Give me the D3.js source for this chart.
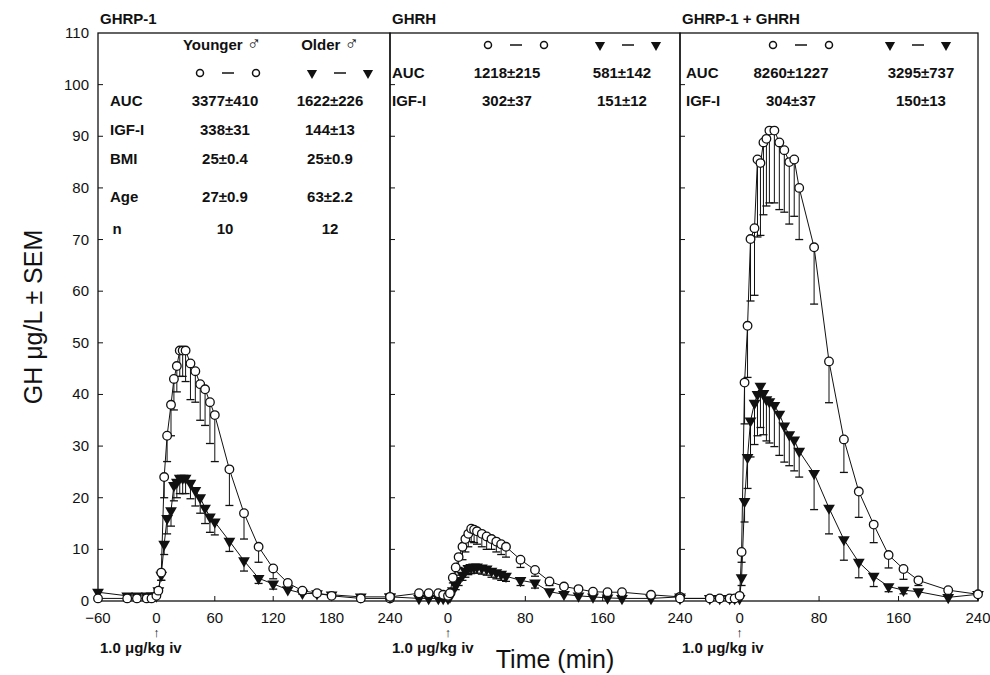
<!DOCTYPE html>
<html>
<head>
<meta charset="utf-8">
<script src="https://cdn.jsdelivr.net/npm/d3@7"></script>
<style>
  body { margin: 0; background: #fff; }
  svg text { font-family: "Liberation Sans", Arial, sans-serif; fill: #111; }
  .tbl { font-size: 15px; font-weight: bold; }
  .tick-label { font-size: 15px; }
</style>
</head>
<body>
<svg id="chart" width="990" height="675"></svg>
<script>
// sampling times (min)
var times = [-60,-30,-20,-10,-5,0, 2,5,8,11,15,18,21,24,27,30, 35,40,45,50,55,60, 75,90,105,120,135,150,165,180,210,240];

// GHRP-1
var p1Young    = [0.5,0.5,0.5,0.5,0.5,1, 2,5.5,24,32,38,43,45.5,48.5,48.5,48.5, 46,44.5,42,41,38.5,36, 25.5,17,10.5,6.3,3.5,2,1.5,1,0.5,0.5];
var p1YoungSem = [0.2,0.2,0.2,0.2,0.2,0.3, 0.5,1.5,4,5,6,6,5,5,5,6, 7,6,7,7,8,9, 7,5,3,2,1,0.7,0.5,0.3,0.2,0.2];
var p1Old      = [1.7,1,1,1,1,1, 2,5,11,16,17.5,22.4,23,23.8,23.8,23.8, 22.8,21.4,20,18,16.3,15.3, 11.6,7.8,4.4,3.3,2.2,1.5,1.4,1.2,0.8,0.8];
var p1OldSem   = [0.3,0.2,0.2,0.2,0.2,0.2, 0.5,1,2,3,3,3,3,3,3,3, 3,3,3,3,3,2.5, 2,2,1,1,0.5,0.4,0.3,0.2,0.2,0.2];

// GHRH
var p2Young    = [0.8,1.5,1.5,1.5,1.2,1, 1.5,4.5,6.5,8.5,10.5,12,13,14,13.8,13.5, 13,12.5,12,11.5,11,10.5, 8,6,3.8,2.8,2.3,1.8,1.7,1.7,1.2,0.8];
var p2YoungSem = [0.2,0.3,0.3,0.3,0.3,0.2, 0.5,1,1.5,2,2.5,2.5,2.5,2.5,2.5,2.5, 2.5,2.5,2,2,2,2, 1.5,1.2,0.8,0.5,0.4,0.3,0.3,0.3,0.2,0.2];
var p2Old      = [0.8,0.5,0.5,0.5,0.5,0.5, 0.8,2,3,4,5,5.8,6.3,6.5,6.6,6.6, 6.4,6.2,5.8,5.5,5.2,4.8, 4,3.5,1.8,1.3,1,0.8,0.6,0.5,0.5,0.8];
var p2OldSem   = [0.2,0.1,0.1,0.1,0.1,0.1, 0.2,0.5,0.8,1,1,1.2,1.2,1.2,1.2,1.2, 1.2,1.2,1.2,1.2,1.2,1, 1,1,0.5,0.4,0.3,0.2,0.2,0.2,0.1,0.2];

// GHRP-1 + GHRH
var p3Young    = [0.5,0.5,0.5,0.5,0.5,1, 9.5,42.3,53.3,70.1,72.2,85.5,84.8,88.8,89.5,91.1, 91.1,88.8,87.3,85,85.5,80, 68.5,46.4,31.3,21.2,14.8,8.9,6.2,4,2.1,1.3];
var p3YoungSem = [0.2,0.2,0.2,0.2,0.2,0.3, 2,8,10,12,13,15,14,14,13,14, 14,13,12,12,11,10, 11,8,6.4,5,3.5,2.5,2,1,0.5,0.3];
var p3Old      = [0.5,0.5,0.5,0.5,0.5,0.5, 4.5,19.3,27.8,34.9,38.3,40,41.6,40.2,39,38.6, 37.9,36.2,33.9,32.2,31.2,29, 24.7,18,11.9,7.5,4.8,2.8,2.1,1.8,0.7,1.3];
var p3OldSem   = [0.2,0.2,0.2,0.2,0.2,0.2, 1.5,4,6,7,8,8,8,8,8,8, 8,8,7,6,6,5, 7,5,4,3,2,1,0.7,0.5,0.3,0.3];

var yTicks = [0,10,20,30,40,50,60,70,80,90,100,110];
var panelTitles = ["GHRP-1", "GHRH", "GHRP-1 + GHRH"];
var panelXTicks = [[-60,0,60,120,180,240], [0,80,160,240], [0,80,160,240]];

var tbl1Rows = [["AUC","3377±410","1622±226"],["IGF-I","338±31","144±13"],["BMI","25±0.4","25±0.9"],["Age","27±0.9","63±2.2"],["n","10","12"]];
var tbl2Rows = [["AUC","1218±215","581±142"],["IGF-I","302±37","151±12"]];
var tbl3Rows = [["AUC","8260±1227","3295±737"],["IGF-I","304±37","150±13"]];

var svg = d3.select("#chart");
var plotTop = 33, plotBottom = 601;
var y = d3.scaleLinear().domain([0,110]).range([plotBottom, plotTop]);

var panels = [
  {x0: 98,  x1: 390, young: p1Young, ys: p1YoungSem, old: p1Old, os: p1OldSem},
  {x0: 390, x1: 680, young: p2Young, ys: p2YoungSem, old: p2Old, os: p2OldSem},
  {x0: 680, x1: 978, young: p3Young, ys: p3YoungSem, old: p3Old, os: p3OldSem}
];

var tri = d3.symbol().type(d3.symbolTriangle).size(60);

panels.forEach(function(p, i) {
  var x = d3.scaleLinear().domain([-60,240]).range([p.x0, p.x1]);
  var g = svg.append("g");

  g.append("rect").attr("x", p.x0).attr("y", plotTop).attr("width", p.x1 - p.x0).attr("height", plotBottom - plotTop)
    .attr("fill", "none").attr("stroke", "#111").attr("stroke-width", 1.3);

  // inward ticks
  g.selectAll(".yt").data(yTicks.slice(1, -1)).enter().append("line")
    .attr("x1", p.x0).attr("x2", p.x0 + 5).attr("y1", d => y(d)).attr("y2", d => y(d)).attr("stroke", "#111");
  g.selectAll(".xt").data(panelXTicks[i]).enter().append("line")
    .attr("x1", d => x(d)).attr("x2", d => x(d)).attr("y1", plotBottom).attr("y2", plotBottom - 5).attr("stroke", "#111");

  g.selectAll(".xl").data(panelXTicks[i]).enter().append("text").attr("class", "tick-label")
    .attr("x", d => x(d)).attr("y", 623).attr("text-anchor", "middle").text(d => d === -60 ? "\u221260" : d);

  g.append("text").attr("x", x(0)).attr("y", 637).attr("text-anchor", "middle").style("font-size", "13px").style("font-weight", "bold").text("\u2191");
  g.append("text").attr("class", "tbl").attr("x", p.x0 + 2).attr("y", 653).text("1.0 \u03bcg/kg iv");

  g.append("text").attr("class", "tbl").attr("x", p.x0 + 2).attr("y", 24).text(panelTitles[i]);

  function series(vals, sems, isTri) {
    g.append("path").datum(vals)
      .attr("d", d3.line().x((d, j) => x(times[j])).y(d => y(d)))
      .attr("fill", "none").attr("stroke", "#111").attr("stroke-width", 1);
    var eb = g.append("g");
    vals.forEach(function(v, j) {
      var lo = Math.max(0, v - sems[j]);
      if (sems[j] < 0.6) return;
      eb.append("line").attr("x1", x(times[j])).attr("x2", x(times[j])).attr("y1", y(v)).attr("y2", y(lo)).attr("stroke", "#111");
      eb.append("line").attr("x1", x(times[j]) - 4).attr("x2", x(times[j]) + 4).attr("y1", y(lo)).attr("y2", y(lo)).attr("stroke", "#111").attr("stroke-width", 1.3);
    });
    if (isTri) {
      g.selectAll(null).data(vals).enter().append("path")
        .attr("d", tri).attr("transform", (d, j) => "translate(" + x(times[j]) + "," + y(d) + ") rotate(180)")
        .attr("fill", "#111");
    } else {
      g.selectAll(null).data(vals).enter().append("circle")
        .attr("cx", (d, j) => x(times[j])).attr("cy", d => y(d)).attr("r", 4.3)
        .attr("fill", "#fff").attr("stroke", "#111").attr("stroke-width", 1.3);
    }
  }
  series(p.old, p.os, true);
  series(p.young, p.ys, false);
});

// y axis labels
svg.selectAll(".yl").data(yTicks).enter().append("text").attr("class", "tick-label")
  .attr("x", 89).attr("y", d => y(d) + 5).attr("text-anchor", "end").text(d => d);

svg.append("text").attr("transform", "translate(42,317) rotate(-90)").attr("text-anchor", "middle")
  .style("font-size", "25px").text("GH \u03bcg/L \u00b1 SEM");
svg.append("text").attr("x", 555).attr("y", 668).attr("text-anchor", "middle")
  .style("font-size", "25px").text("Time (min)");

// legend glyphs and tables
function legend(cx1, cx2, ly) {
  var g = svg.append("g");
  [cx1, cx2].forEach(function(cx, k) {
    [-28, 28].forEach(function(dx) {
      if (k === 0) g.append("circle").attr("cx", cx + dx).attr("cy", ly - 5).attr("r", 3.5).attr("fill", "none").attr("stroke", "#111").attr("stroke-width", 1.5);
      else g.append("path").attr("d", d3.symbol().type(d3.symbolTriangle).size(45)).attr("transform", "translate(" + (cx + dx) + "," + (ly - 5) + ") rotate(180)").attr("fill", "#111");
    });
    g.append("line").attr("x1", cx - 6).attr("x2", cx + 6).attr("y1", ly - 5).attr("y2", ly - 5).attr("stroke", "#111").attr("stroke-width", 1.5);
  });
}
function table(rows, lx, c1, c2, ys) {
  rows.forEach(function(r, k) {
    svg.append("text").attr("class", "tbl").attr("x", lx).attr("y", ys[k]).attr("text-anchor", r[0] === "n" ? "middle" : "start")
      .attr("dx", r[0] === "n" ? 7 : 0).text(r[0]);
    svg.append("text").attr("class", "tbl").attr("x", c1).attr("y", ys[k]).attr("text-anchor", "middle").text(r[1]);
    svg.append("text").attr("class", "tbl").attr("x", c2).attr("y", ys[k]).attr("text-anchor", "middle").text(r[2]);
  });
}
var h1 = svg.append("text").attr("class", "tbl").attr("x", 222).attr("y", 50).attr("text-anchor", "middle");
h1.append("tspan").text("Younger ");
h1.append("tspan").style("font-size", "19px").style("font-weight", "normal").text("\u2642");
var h2 = svg.append("text").attr("class", "tbl").attr("x", 330).attr("y", 50).attr("text-anchor", "middle");
h2.append("tspan").text("Older ");
h2.append("tspan").style("font-size", "19px").style("font-weight", "normal").text("\u2642");
legend(228, 340, 78);
table(tbl1Rows, 110, 225, 330, [106, 135, 164, 202, 234]);
legend(516, 628, 50);
table(tbl2Rows, 392, 507, 622, [78, 106]);
legend(801, 918, 50);
table(tbl3Rows, 686, 791, 921, [78, 106]);
</script>
</body>
</html>
